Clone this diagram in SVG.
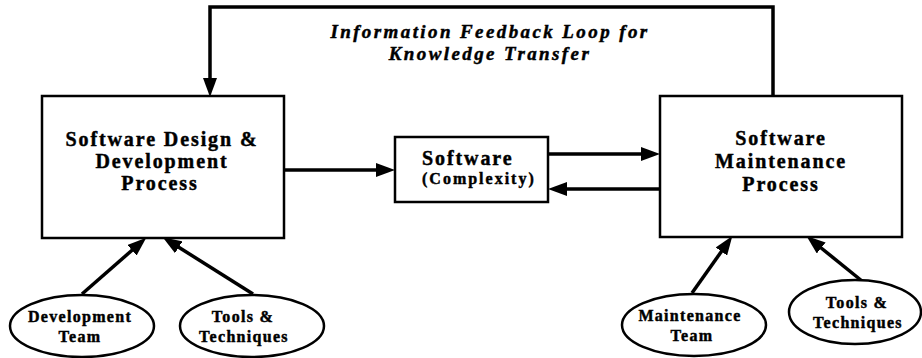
<svg xmlns="http://www.w3.org/2000/svg" width="922" height="358" viewBox="0 0 922 358">
  <style>
    .box { fill: #fff; stroke: #000; stroke-width: 2.5; }
    .oval { fill: #fff; stroke: #000; stroke-width: 2.5; }
    .link { fill: none; stroke: #000; stroke-width: 3.5; }
    text { stroke: #000; stroke-width: 0.45px; }
    .big { font-family: "Liberation Serif", "Times New Roman", serif; font-weight: bold; font-size: 20px; letter-spacing: 1.9px; fill: #000; text-anchor: middle; }
    .mid { font-family: "Liberation Serif", "Times New Roman", serif; font-weight: bold; font-size: 16px; letter-spacing: 2px; fill: #000; }
    .small { font-family: "Liberation Serif", "Times New Roman", serif; font-weight: bold; font-size: 16px; letter-spacing: 1.3px; fill: #000; text-anchor: middle; }
    .title { font-family: "Liberation Serif", "Times New Roman", serif; font-weight: bold; font-style: italic; font-size: 19px; letter-spacing: 2.4px; fill: #000; text-anchor: middle; }
  </style>
  <defs>
    <marker id="ah" markerUnits="userSpaceOnUse" markerWidth="20" markerHeight="14" refX="8" refY="7" orient="auto">
      <path d="M0,0 L19,7 L0,14 Z" fill="#000"/>
    </marker>
  </defs>
  <rect width="922" height="358" fill="#fff"/>

  <!-- connectors -->
  <g id="connectors">
    <path class="link" d="M773,96 V7 H210 V86" marker-end="url(#ah)" stroke-width="3"/>
    <path class="link" d="M284,170 H384" marker-end="url(#ah)"/>
    <path class="link" d="M548,154 H649" marker-end="url(#ah)"/>
    <path class="link" d="M660,189 H559" marker-end="url(#ah)"/>
    <path class="link" d="M82,294 L138,245" marker-end="url(#ah)"/>
    <path class="link" d="M253,294 L172,243" marker-end="url(#ah)"/>
    <path class="link" d="M692,293 L726,245" marker-end="url(#ah)"/>
    <path class="link" d="M862,281 L815,243" marker-end="url(#ah)"/>
  </g>

  <text class="title" x="490" y="38">Information Feedback Loop for</text>
  <text class="title" x="490" y="60">Knowledge Transfer</text>

  <g id="design-process">
    <rect class="box" x="42" y="96" width="242" height="142"/>
    <text class="big" x="162" y="146">Software Design &amp;</text>
    <text class="big" x="162" y="168">Development</text>
    <text class="big" x="160" y="190">Process</text>
  </g>

  <g id="software">
    <rect class="box" x="395" y="137" width="153" height="65"/>
    <text class="big" x="422" y="165" style="text-anchor:start">Software</text>
    <text class="mid" x="422" y="184">(Complexity)</text>
  </g>

  <g id="maintenance-process">
    <rect class="box" x="660" y="96" width="242" height="141"/>
    <text class="big" x="781" y="145">Software</text>
    <text class="big" x="781" y="168">Maintenance</text>
    <text class="big" x="781" y="191">Process</text>
  </g>

  <g id="development-team">
    <ellipse class="oval" cx="82" cy="326" rx="72" ry="31"/>
    <text class="small" x="80" y="322">Development</text>
    <text class="small" x="80" y="342">Team</text>
  </g>

  <g id="dev-tools">
    <ellipse class="oval" cx="252" cy="326" rx="72" ry="31"/>
    <text class="small" x="243" y="322">Tools &amp;</text>
    <text class="small" x="244" y="342">Techniques</text>
  </g>

  <g id="maintenance-team">
    <ellipse class="oval" cx="694" cy="325" rx="72" ry="31"/>
    <text class="small" x="690" y="321">Maintenance</text>
    <text class="small" x="692" y="341">Team</text>
  </g>

  <g id="maint-tools">
    <ellipse class="oval" cx="855" cy="312" rx="66" ry="32"/>
    <text class="small" x="857" y="308">Tools &amp;</text>
    <text class="small" x="858" y="328">Techniques</text>
  </g>
</svg>
